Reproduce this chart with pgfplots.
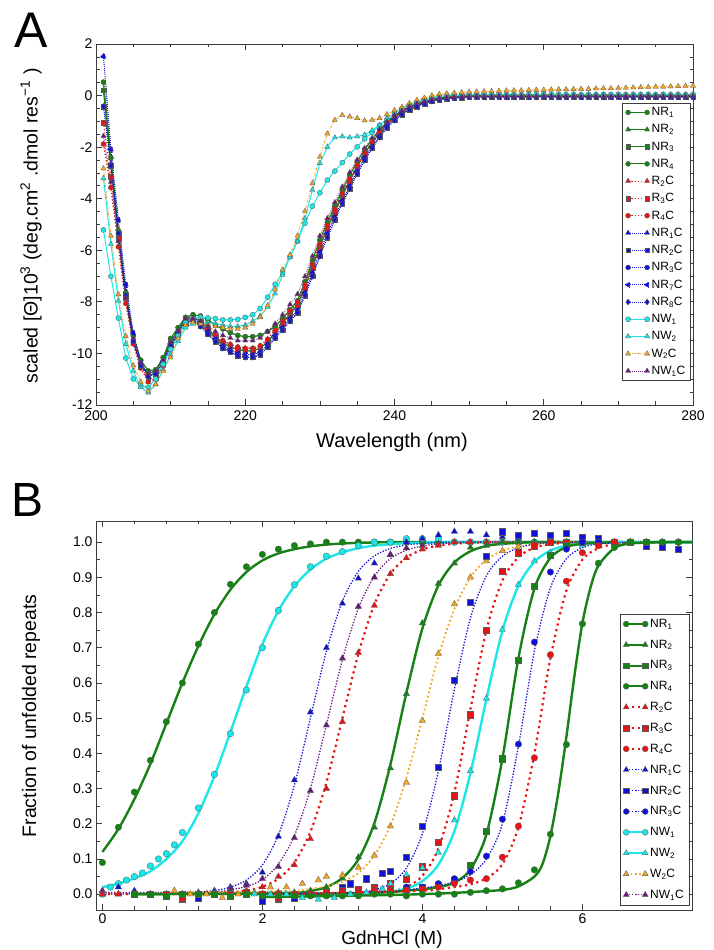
\documentclass[border=0pt]{standalone}
\usepackage{fontspec}
\setmainfont{Liberation Sans}
\usepackage{pgfplots}
\usepackage{pgfplotstable}
\pgfplotsset{compat=1.18}
\definecolor{cgreen}{RGB}{22,130,22}
\definecolor{cred}{RGB}{232,20,20}
\definecolor{cblue}{RGB}{15,15,215}
\definecolor{ccyan}{RGB}{30,230,230}
\definecolor{corange}{RGB}{245,165,35}
\definecolor{cpurple}{RGB}{105,25,125}
\definecolor{axgray}{RGB}{60,60,60}

\pgfplotstableread{
wl G1 G2 R1 R2 B1 B2 P C1 C2 O
201 0.52 0.21 -1.88 -1.05 1.52 -0.42 -1.57 -5.21 -3.21 -2.83
202 -2.41 -2.72 -3.56 -3.14 -2.09 -2.72 -3.35 -7.01 -5.76 -5.44
203 -5.24 -5.44 -5.86 -5.55 -4.82 -5.34 -5.65 -8.63 -7.96 -7.71
204 -7.64 -7.85 -8.06 -7.85 -7.33 -7.75 -7.85 -10.18 -9.63 -9.32
205 -9.32 -9.53 -9.63 -9.53 -9.21 -9.53 -9.42 -10.99 -10.68 -10.47
206 -10.26 -10.47 -10.57 -10.47 -10.37 -10.47 -10.37 -11.26 -11.31 -11.10
207 -10.68 -10.78 -11.10 -10.99 -10.84 -10.89 -10.78 -11.31 -11.52 -11.46
208 -10.63 -10.68 -10.99 -10.94 -10.78 -10.78 -10.68 -10.99 -11.20 -11.20
209 -10.16 -10.21 -10.47 -10.42 -10.31 -10.37 -10.26 -10.42 -10.63 -10.68
210 -9.42 -9.53 -9.74 -9.68 -9.63 -9.68 -9.58 -9.84 -10.05 -10.16
211 -9.00 -9.11 -9.21 -9.16 -9.21 -9.27 -9.11 -9.32 -9.53 -9.42
212 -8.6 -8.65 -8.7 -8.7 -8.75 -8.8 -8.65 -8.8 -9.0 -8.9
213 -8.5 -8.6 -8.65 -8.65 -8.7 -8.75 -8.65 -8.65 -8.85 -8.8
214 -8.55 -8.75 -8.8 -8.85 -8.85 -8.95 -8.75 -8.6 -8.8 -8.85
215 -8.7 -9.05 -9.05 -9.15 -9.15 -9.25 -8.95 -8.62 -8.8 -8.9
216 -8.9 -9.35 -9.3 -9.4 -9.45 -9.55 -9.15 -8.65 -8.85 -8.95
217 -9.05 -9.6 -9.5 -9.6 -9.7 -9.8 -9.3 -8.7 -8.9 -9.0
218 -9.2 -9.75 -9.65 -9.75 -9.85 -9.95 -9.4 -8.7 -8.95 -9.05
219 -9.3 -9.85 -9.75 -9.85 -10.0 -10.1 -9.5 -8.68 -8.95 -9.05
220 -9.35 -9.9 -9.8 -9.9 -10.05 -10.15 -9.5 -8.6 -8.9 -9.0
221 -9.35 -9.9 -9.8 -9.9 -10.05 -10.15 -9.5 -8.5 -8.75 -8.85
222 -9.3 -9.8 -9.7 -9.8 -9.95 -10.05 -9.4 -8.26 -8.55 -8.6
223 -9.15 -9.55 -9.45 -9.55 -9.65 -9.75 -9.15 -7.82 -8.2 -8.14
224 -8.95 -9.2 -9.1 -9.2 -9.3 -9.4 -8.85 -7.32 -7.68 -7.52
225 -8.65 -8.85 -8.75 -8.85 -9.0 -9.1 -8.5 -6.88 -6.96 -6.75
226 -8.3 -8.45 -8.35 -8.5 -8.65 -8.75 -8.1 -6.25 -6.25 -6.17
227 -7.96 -8.11 -8.01 -8.17 -8.32 -8.43 -7.70 -5.65 -5.65 -5.44
228 -7.22 -7.43 -7.33 -7.49 -7.64 -7.75 -7.01 -4.95 -4.76 -4.48
229 -6.39 -6.65 -6.54 -6.70 -6.86 -7.01 -6.23 -4.29 -3.66 -3.40
230 -5.60 -5.86 -5.76 -5.92 -6.07 -6.23 -5.44 -3.77 -2.62 -2.37
231 -4.92 -5.13 -5.03 -5.18 -5.34 -5.50 -4.76 -3.28 -1.99 -1.48
232 -4.29 -4.50 -4.40 -4.55 -4.71 -4.82 -4.14 -2.93 -1.63 -0.95
233 -3.66 -3.87 -3.79 -3.93 -4.08 -4.19 -3.54 -2.60 -1.59 -0.76
234 -3.09 -3.30 -3.22 -3.35 -3.51 -3.61 -2.98 -2.27 -1.63 -0.82
235 -2.57 -2.74 -2.70 -2.81 -2.93 -3.04 -2.49 -1.99 -1.59 -0.88
236 -2.09 -2.25 -2.22 -2.30 -2.41 -2.51 -2.04 -1.68 -1.52 -0.97
237 -1.70 -1.83 -1.80 -1.86 -1.97 -2.04 -1.65 -1.43 -1.35 -0.95
238 -1.34 -1.44 -1.42 -1.47 -1.57 -1.62 -1.31 -1.15 -1.15 -0.88
239 -1.03 -1.10 -1.09 -1.12 -1.17 -1.24 -1.01 -0.91 -0.91 -0.73
240 -0.79 -0.84 -0.84 -0.86 -0.92 -0.96 -0.76 -0.69 -0.69 -0.57
241 -0.59 -0.63 -0.63 -0.65 -0.69 -0.73 -0.58 -0.50 -0.50 -0.44
242 -0.43 -0.47 -0.46 -0.48 -0.53 -0.55 -0.42 -0.36 -0.37 -0.3
243 -0.32 -0.35 -0.34 -0.36 -0.4 -0.42 -0.31 -0.25 -0.26 -0.17
244 -0.23 -0.26 -0.25 -0.27 -0.3 -0.31 -0.23 -0.15 -0.16 -0.09
245 -0.15 -0.18 -0.17 -0.18 -0.21 -0.22 -0.15 -0.08 -0.1 0.0
246 -0.1 -0.12 -0.11 -0.12 -0.15 -0.16 -0.1 -0.03 -0.05 0.05
247 -0.06 -0.08 -0.07 -0.08 -0.11 -0.12 -0.07 0.0 0.0 0.08
248 -0.03 -0.06 -0.05 -0.05 -0.08 -0.09 -0.05 0.02 0.02 0.1
249 -0.02 -0.04 -0.03 -0.03 -0.06 -0.07 -0.04 0.03 0.03 0.12
250 -0.01 -0.03 -0.02 -0.03 -0.05 -0.05 -0.03 0.04 0.03 0.14
251 0.0 -0.02 -0.02 -0.02 -0.04 -0.05 -0.02 0.04 0.04 0.15
252 -0.01 -0.03 -0.01 -0.03 -0.05 -0.06 -0.03 0.05 0.03 0.16
253 -0.02 -0.03 -0.02 -0.02 -0.05 -0.05 -0.03 0.04 0.04 0.17
254 -0.01 -0.02 -0.02 -0.03 -0.04 -0.05 -0.02 0.05 0.04 0.18
255 0.0 -0.03 -0.01 -0.02 -0.05 -0.06 -0.03 0.04 0.03 0.19
256 -0.01 -0.02 -0.02 -0.03 -0.05 -0.05 -0.03 0.05 0.04 0.2
257 -0.02 -0.03 -0.02 -0.02 -0.04 -0.05 -0.02 0.04 0.04 0.2
258 -0.01 -0.02 -0.01 -0.03 -0.05 -0.06 -0.03 0.05 0.03 0.21
259 0.0 -0.03 -0.02 -0.02 -0.05 -0.05 -0.03 0.04 0.04 0.22
260 -0.01 -0.02 -0.02 -0.03 -0.04 -0.05 -0.02 0.05 0.04 0.22
261 0.0 -0.02 -0.02 -0.02 -0.04 -0.05 -0.02 0.04 0.04 0.23
262 -0.01 -0.03 -0.01 -0.03 -0.05 -0.06 -0.03 0.05 0.03 0.24
263 -0.02 -0.03 -0.02 -0.02 -0.05 -0.05 -0.03 0.04 0.04 0.24
264 -0.01 -0.02 -0.02 -0.03 -0.04 -0.05 -0.02 0.05 0.04 0.25
265 0.0 -0.03 -0.01 -0.02 -0.05 -0.06 -0.03 0.04 0.03 0.26
266 -0.01 -0.02 -0.02 -0.03 -0.05 -0.05 -0.03 0.05 0.04 0.26
267 -0.02 -0.03 -0.02 -0.02 -0.04 -0.05 -0.02 0.04 0.04 0.27
268 -0.01 -0.02 -0.01 -0.03 -0.05 -0.06 -0.03 0.05 0.03 0.28
269 0.0 -0.03 -0.02 -0.02 -0.05 -0.05 -0.03 0.04 0.04 0.28
270 -0.01 -0.02 -0.02 -0.03 -0.04 -0.05 -0.02 0.05 0.04 0.29
271 0.0 -0.02 -0.02 -0.02 -0.04 -0.05 -0.02 0.04 0.04 0.3
272 -0.01 -0.03 -0.01 -0.03 -0.05 -0.06 -0.03 0.05 0.03 0.31
273 -0.02 -0.03 -0.02 -0.02 -0.05 -0.05 -0.03 0.04 0.04 0.32
274 -0.01 -0.02 -0.02 -0.03 -0.04 -0.05 -0.02 0.05 0.04 0.33
275 0.0 -0.03 -0.01 -0.02 -0.05 -0.06 -0.03 0.04 0.03 0.34
276 -0.01 -0.02 -0.02 -0.03 -0.05 -0.05 -0.03 0.05 0.04 0.34
277 -0.02 -0.03 -0.02 -0.02 -0.04 -0.05 -0.02 0.04 0.04 0.35
278 -0.01 -0.02 -0.01 -0.03 -0.05 -0.06 -0.03 0.05 0.03 0.36
279 0.0 -0.03 -0.02 -0.02 -0.05 -0.05 -0.03 0.04 0.04 0.37
280 -0.01 -0.02 -0.02 -0.03 -0.04 -0.05 -0.02 0.05 0.04 0.38
}\cdA

\pgfplotsset{
 myaxis/.style={
  scale only axis,
  axis line style={axgray, line width=0.8pt},
  tick align=inside, xtick pos=both, ytick pos=both,
  xticklabel pos=left, yticklabel pos=left,
  major tick length=6pt, minor tick length=3.5pt,
  every tick/.style={axgray, line width=0.7pt},
  tick label style={font=\fontsize{14}{16}\selectfont, text=black},
  /pgf/number format/assume math mode=true,
  legend cell align=left,
  legend image code/.code={\draw[mark repeat=2,mark phase=1,##1] plot coordinates {(0pt,0pt) (9.5pt,0pt) (19pt,0pt)};},
 },
 mk/.style={mark options={solid, fill=#1, draw=black!65, line width=0.3pt}},
 grA/.style={cgreen, line width=0.9pt, solid, mark size=2.5pt, mk=cgreen},
 rdA/.style={cred, line width=1.1pt, dash pattern=on 1.1pt off 2.2pt, mark size=2.5pt, mk=cred},
 blA/.style={cblue, line width=0.8pt, dash pattern=on 0.8pt off 1.2pt, mark size=2.5pt, mk=cblue},
 cyA/.style={ccyan, line width=1pt, solid, mark size=2.6pt, mk=ccyan},
 orA/.style={corange, line width=1pt, dash pattern=on 2pt off 1.5pt on 0.6pt off 1.5pt, mark size=2.6pt, mk=corange},
 puA/.style={cpurple, line width=0.8pt, dash pattern=on 0.8pt off 1.2pt, mark size=2.5pt, mk=cpurple},
 grB/.style={cgreen, line width=2.4pt, solid},
 cyB/.style={ccyan, line width=2.4pt, solid},
 rdB/.style={cred, line width=2.2pt, dash pattern=on 2.2pt off 3.6pt},
 blB/.style={cblue, line width=1.3pt, dash pattern=on 1.3pt off 1.6pt},
 puB/.style={cpurple, line width=1.3pt, dash pattern=on 1.3pt off 1.6pt},
 orB/.style={corange, line width=1.8pt, dash pattern=on 1.8pt off 2.6pt},
 mB/.style={only marks, forget plot, mark size=3.3pt, mk=#1},
}

\begin{document}
\begin{tikzpicture}
\path[use as bounding box] (0pt,0pt) rectangle (714pt,950pt);

% ---------------- Panel A ----------------
\begin{axis}[myaxis, width=597pt, height=361pt, at={(96pt,545pt)}, anchor=south west,
  xmin=200, xmax=280, ymin=-12, ymax=2,
  xtick={200,220,240,260,280}, ytick={-12,-10,-8,-6,-4,-2,0,2},
  minor x tick num=3, minor y tick num=3,
  xticklabel style={yshift=-2.5pt},
  legend style={at={(0.995,0.837)}, anchor=north east, draw=axgray,
    font=\fontsize{12}{13}\selectfont, row sep=3.4pt, inner sep=2.5pt},
]
\addplot[grA, mark=*] table[x=wl,y=G1]{\cdA}; \addlegendentry{NR\textsubscript{1}}
\addplot[grA, mark=triangle*, mark size=3pt] table[x=wl,y=G2]{\cdA}; \addlegendentry{NR\textsubscript{2}}
\addplot[grA, mark=square*, mark size=2.3pt] table[x=wl,y=G2]{\cdA}; \addlegendentry{NR\textsubscript{3}}
\addplot[grA, mark=*] table[x=wl,y=G1]{\cdA}; \addlegendentry{NR\textsubscript{4}}
\addplot[rdA, mark=triangle*, mark size=3pt] table[x=wl,y=R1]{\cdA}; \addlegendentry{R\textsubscript{2}C}
\addplot[rdA, mark=square*, mark size=2.3pt] table[x=wl,y=R2]{\cdA}; \addlegendentry{R\textsubscript{3}C}
\addplot[rdA, mark=*] table[x=wl,y=R1]{\cdA}; \addlegendentry{R\textsubscript{4}C}
\addplot[blA, mark=triangle*, mark size=3pt] table[x=wl,y=B1]{\cdA}; \addlegendentry{NR\textsubscript{1}C}
\addplot[blA, mark=square*, mark size=2.3pt] table[x=wl,y=B2]{\cdA}; \addlegendentry{NR\textsubscript{2}C}
\addplot[blA, mark=*] table[x=wl,y=B2]{\cdA}; \addlegendentry{NR\textsubscript{3}C}
\addplot[blA, mark=triangle*, mark size=3pt, mark options={rotate=90}] table[x=wl,y=B1]{\cdA}; \addlegendentry{NR\textsubscript{7}C}
\addplot[blA, mark=diamond*, mark size=3pt] table[x=wl,y=B2]{\cdA}; \addlegendentry{NR\textsubscript{8}C}
\addplot[cyA, mark=*] table[x=wl,y=C1]{\cdA}; \addlegendentry{NW\textsubscript{1}}
\addplot[cyA, mark=triangle*, mark size=3pt] table[x=wl,y=C2]{\cdA}; \addlegendentry{NW\textsubscript{2}}
\addplot[orA, mark=triangle*, mark size=3pt] table[x=wl,y=O]{\cdA}; \addlegendentry{W\textsubscript{2}C}
\addplot[puA, mark=triangle*, mark size=3pt] table[x=wl,y=P]{\cdA}; \addlegendentry{NW\textsubscript{1}C}
\end{axis}

% ---------------- Panel B ----------------
\begin{axis}[myaxis, width=596pt, height=389pt, at={(96pt,40pt)}, anchor=south west,
  xmin=-0.08, xmax=7.37, ymin=-0.045, ymax=1.06,
  xtick={0,2,4,6}, minor x tick num=4,
  ytick={0,0.1,0.2,0.3,0.4,0.5,0.6,0.7,0.8,0.9,1.0}, minor y tick num=1,
  yticklabel style={/pgf/number format/.cd, fixed, fixed zerofill, precision=1},
  legend style={at={(0.995,0.013)}, anchor=south east, draw=axgray,
    font=\fontsize{12}{13}\selectfont, row sep=7pt, inner sep=3pt},
]
% fitted curves
\addplot[grB, smooth, forget plot] coordinates {(0,0.12) (0.2,0.185) (0.4,0.27) (0.6,0.37) (0.8,0.485) (1.0,0.6) (1.2,0.705) (1.4,0.795) (1.6,0.865) (1.8,0.915) (2.0,0.948) (2.2,0.968) (2.4,0.98) (2.6,0.988) (2.8,0.993) (3.0,0.996) (3.2,0.998) (3.4,0.999) (3.6,1.0) (4.0,1.0) (5.0,1.0) (6.0,1.0) (7.37,1.0)};
\addplot[cyB, smooth, forget plot] coordinates {(0,0.02) (0.2,0.03) (0.4,0.045) (0.6,0.065) (0.8,0.1) (1.0,0.15) (1.2,0.23) (1.4,0.335) (1.6,0.46) (1.8,0.59) (2.0,0.71) (2.2,0.805) (2.4,0.875) (2.6,0.922) (2.8,0.953) (3.0,0.971) (3.2,0.983) (3.4,0.99) (3.6,0.994) (3.8,0.997) (4.0,0.998) (4.4,1.0) (7.37,1.0)};
\addplot[blB, smooth, forget plot] coordinates {(0,0.0) (0.5,0.001) (1.0,0.003) (1.2,0.006) (1.4,0.01) (1.6,0.02) (1.8,0.04) (2.0,0.083) (2.2,0.168) (2.4,0.31) (2.6,0.5) (2.8,0.69) (3.0,0.832) (3.2,0.917) (3.4,0.961) (3.6,0.982) (3.8,0.992) (4.0,0.996) (4.4,1.0) (6.0,1.0)};
\addplot[puB, smooth, forget plot] coordinates {(0,0.005) (1.0,0.005) (1.4,0.006) (1.6,0.012) (1.8,0.022) (2.0,0.041) (2.2,0.085) (2.4,0.166) (2.6,0.3) (2.8,0.481) (3.0,0.666) (3.2,0.812) (3.4,0.903) (3.6,0.953) (3.8,0.977) (4.0,0.989) (4.2,0.995) (4.6,1.0) (5.6,1.0)};
\addplot[rdB, smooth, forget plot] coordinates {(0,0.0) (1.0,0.002) (1.6,0.005) (1.8,0.01) (2.0,0.021) (2.2,0.044) (2.4,0.09) (2.6,0.177) (2.8,0.317) (3.0,0.5) (3.2,0.683) (3.4,0.823) (3.6,0.91) (3.8,0.956) (4.0,0.979) (4.2,0.99) (4.4,0.995) (4.8,1.0) (6.0,1.0)};
\addplot[grB, smooth, forget plot] coordinates {(0.4,0.0) (1.4,0.001) (2.4,0.004) (2.6,0.009) (2.8,0.02) (3.0,0.046) (3.2,0.099) (3.4,0.202) (3.6,0.368) (3.8,0.572) (4.0,0.755) (4.2,0.877) (4.4,0.942) (4.6,0.974) (4.8,0.989) (5.0,0.995) (5.4,1.0) (6.0,1.0)};
\addplot[orB, smooth, forget plot] coordinates {(0.9,0.005) (1.8,0.007) (2.4,0.01) (2.6,0.015) (2.8,0.022) (3.0,0.035) (3.2,0.06) (3.4,0.11) (3.6,0.195) (3.8,0.33) (4.0,0.5) (4.2,0.675) (4.4,0.81) (4.6,0.9) (4.8,0.95) (5.0,0.975) (5.2,0.988) (5.4,0.994) (5.8,1.0) (6.6,1.0)};
\addplot[blB, smooth, forget plot] coordinates {(0.8,0.0) (2.0,0.001) (3.0,0.003) (3.2,0.005) (3.4,0.012) (3.6,0.03) (3.8,0.074) (4.0,0.172) (4.2,0.35) (4.4,0.582) (4.6,0.784) (4.8,0.904) (5.0,0.96) (5.2,0.984) (5.4,0.994) (5.6,0.998) (6.0,1.0) (7.37,1.0)};
\addplot[rdB, smooth, forget plot] coordinates {(0.8,0.0) (2.0,0.001) (3.2,0.002) (3.4,0.003) (3.6,0.007) (3.8,0.02) (4.0,0.052) (4.2,0.13) (4.4,0.289) (4.6,0.525) (4.8,0.75) (5.0,0.891) (5.2,0.957) (5.4,0.984) (5.6,0.994) (5.8,0.998) (6.2,1.0) (6.8,1.0)};
\addplot[cyB, smooth, forget plot] coordinates {(1.9,0.0) (2.6,0.0) (3.0,0.001) (3.4,0.003) (3.6,0.007) (3.8,0.016) (4.0,0.037) (4.2,0.084) (4.4,0.179) (4.6,0.343) (4.8,0.554) (5.0,0.748) (5.2,0.876) (5.4,0.944) (5.6,0.976) (5.8,0.99) (6.0,0.996) (6.4,1.0) (7.37,1.0)};
\addplot[grB, smooth, forget plot] coordinates {(0.4,0.0) (1.6,0.001) (3.0,0.002) (3.6,0.006) (3.8,0.01) (4.0,0.014) (4.2,0.02) (4.4,0.033) (4.6,0.07) (4.8,0.17) (5.0,0.385) (5.2,0.67) (5.4,0.868) (5.6,0.955) (5.8,0.986) (6.0,0.995) (6.4,1.0)};
\addplot[blB, smooth, forget plot] coordinates {(2.0,0.0) (3.0,0.004) (3.6,0.008) (3.8,0.012) (4.0,0.017) (4.2,0.024) (4.4,0.035) (4.6,0.055) (4.8,0.1) (5.0,0.2) (5.2,0.42) (5.4,0.69) (5.6,0.87) (5.8,0.953) (6.0,0.984) (6.2,0.995) (6.6,1.0)};
\addplot[rdB, smooth, forget plot] coordinates {(2.0,0.0) (3.0,0.004) (4.0,0.01) (4.2,0.014) (4.4,0.02) (4.6,0.028) (4.8,0.045) (5.0,0.085) (5.2,0.19) (5.4,0.4) (5.6,0.67) (5.8,0.862) (6.0,0.95) (6.2,0.983) (6.4,0.994) (6.6,0.998) (7.0,1.0) (7.37,1.0)};
\addplot[grB, smooth, forget plot] coordinates {(2.0,-0.008) (3.0,-0.005) (4.0,0.0) (4.6,0.006) (5.0,0.012) (5.2,0.022) (5.4,0.05) (5.5,0.085) (5.6,0.165) (5.7,0.29) (5.8,0.447) (5.9,0.62) (6.0,0.77) (6.1,0.87) (6.2,0.933) (6.4,0.983) (6.6,0.996) (7.0,1.0) (7.37,1.0)};
% data points
\addplot[mB=cgreen, mark=*] coordinates {(0,0.09) (0.2,0.19) (0.4,0.29) (0.6,0.38) (0.8,0.49) (1.0,0.6) (1.2,0.71) (1.4,0.8) (1.6,0.88) (1.8,0.93) (2.0,0.965) (2.2,0.98) (2.4,0.99) (2.6,0.995) (2.8,1.0) (3.0,1.0) (3.2,1.0) (3.4,1.0) (3.6,1.0) (3.8,1.0) (4.0,1.0) (4.2,1.0) (4.4,1.0) (4.6,1.0) (4.8,1.0) (5.0,1.0) (5.2,1.0) (5.4,1.0) (5.6,1.0) (5.8,1.0) (6.0,1.0) (6.2,1.0) (6.4,1.0) (6.6,1.0) (6.8,1.0) (7.0,1.0) (7.2,1.0)};
\addplot[mB=ccyan, mark=*] coordinates {(0,0.0) (0.1,0.02) (0.2,0.03) (0.3,0.04) (0.4,0.05) (0.5,0.06) (0.6,0.08) (0.7,0.1) (0.8,0.115) (0.9,0.14) (1.0,0.175) (1.2,0.245) (1.4,0.34) (1.6,0.456) (1.8,0.58) (2.0,0.7) (2.2,0.806) (2.4,0.879) (2.6,0.93) (2.8,0.96) (3.0,0.973) (3.2,0.99) (3.4,1.0) (3.6,1.0) (3.8,1.01) (4.0,1.01) (4.2,1.01) (4.4,1.0) (4.6,1.0) (4.8,1.0) (5.0,1.0) (5.2,1.0) (5.4,1.0) (5.6,1.0) (5.8,1.0) (6.0,1.0) (6.2,1.0) (6.4,1.0) (6.6,1.0) (6.8,1.0) (7.0,1.0) (7.2,1.0)};
\addplot[mB=cblue, mark=triangle*, mark size=3.7pt] coordinates {(0,0.0) (0.2,0.02) (0.4,0.01) (0.6,0.0) (0.8,0.0) (1.0,0.0) (1.2,0.005) (1.4,0.01) (1.6,0.02) (1.8,0.03) (2.0,0.062) (2.2,0.164) (2.4,0.324) (2.6,0.517) (2.8,0.7) (3.0,0.826) (3.2,0.897) (3.4,0.94) (3.6,0.965) (3.8,1.0) (4.0,1.01) (4.2,1.02) (4.4,1.03) (4.6,1.03) (4.8,1.02) (5.0,1.015) (5.2,1.01) (5.4,1.0) (5.6,1.0) (5.8,1.0) (6.0,1.0)};
\addplot[mB=cpurple, mark=triangle*, mark size=3.7pt] coordinates {(0,0.01) (0.2,0.0) (0.4,0.0) (0.6,0.0) (0.8,-0.005) (1.0,0.0) (1.2,0.0) (1.4,0.005) (1.6,0.015) (1.8,0.025) (2.0,0.044) (2.2,0.078) (2.4,0.16) (2.6,0.294) (2.8,0.48) (3.0,0.67) (3.2,0.817) (3.4,0.9) (3.6,0.964) (3.8,0.983) (4.0,0.99) (4.2,0.995) (4.4,1.0) (4.6,1.0) (4.8,1.0) (5.0,1.0) (5.2,1.0) (5.4,1.0) (5.6,1.0)};
\addplot[mB=cred, mark=triangle*, mark size=3.7pt] coordinates {(0,0.0) (0.2,0.0) (0.4,0.0) (0.6,0.0) (0.8,0.0) (1.0,0.0) (1.2,-0.005) (1.4,0.0) (1.6,0.005) (1.8,0.01) (2.0,0.02) (2.2,0.05) (2.4,0.083) (2.6,0.157) (2.8,0.3) (3.0,0.49) (3.2,0.686) (3.4,0.82) (3.6,0.91) (3.8,0.955) (4.0,0.98) (4.2,0.99) (4.4,1.0) (4.6,1.0) (4.8,1.0) (5.0,1.0) (5.2,1.0) (5.4,1.0) (5.6,1.0) (5.8,1.0) (6.0,1.0)};
\addplot[mB=cgreen, mark=triangle*, mark size=3.7pt] coordinates {(0.4,0.0) (0.6,-0.003) (0.8,0.0) (1.0,0.0) (1.2,0.0) (1.4,-0.005) (1.6,0.0) (1.8,0.0) (2.0,0.0) (2.2,0.005) (2.4,0.005) (2.6,0.01) (2.8,0.02) (3.0,0.045) (3.2,0.105) (3.4,0.19) (3.6,0.358) (3.8,0.569) (4.0,0.77) (4.2,0.882) (4.4,0.94) (4.6,0.985) (4.8,0.99) (5.0,1.0) (5.2,1.0) (5.4,1.0) (5.6,1.0) (5.8,1.0) (6.0,1.0)};
\addplot[mB=corange, mark=triangle*, mark size=3.7pt] coordinates {(0.9,0.01) (1.1,0.0) (1.3,0.0) (1.5,-0.01) (1.7,0.0) (1.9,0.005) (2.1,0.02) (2.3,0.02) (2.5,0.03) (2.7,0.04) (2.8,0.05) (3.0,0.054) (3.2,0.076) (3.4,0.11) (3.6,0.193) (3.8,0.317) (4.0,0.493) (4.2,0.683) (4.4,0.824) (4.6,0.9) (4.8,0.946) (5.0,0.975) (5.2,0.987) (5.4,0.99) (5.6,0.995) (5.8,1.0) (6.0,1.0) (6.2,1.0) (6.4,1.0) (6.6,1.0)};
\addplot[mB=cblue, mark=square*, mark size=3.1pt] coordinates {(0.8,0.0) (1.0,-0.015) (1.2,-0.01) (1.4,0.0) (1.6,0.0) (1.8,0.0) (2.0,-0.02) (2.2,-0.015) (2.4,-0.01) (2.6,0.0) (2.8,0.005) (3.0,0.02) (3.1,0.03) (3.3,0.044) (3.5,0.06) (3.6,0.065) (3.8,0.105) (4.0,0.193) (4.2,0.36) (4.4,0.608) (4.6,0.83) (4.8,0.96) (5.0,1.03) (5.2,1.02) (5.4,1.025) (5.6,1.02) (5.8,1.025) (6.0,1.015) (6.2,1.01) (6.4,1.0) (6.6,1.0) (6.8,0.99) (7.0,0.985) (7.2,0.98)};
\addplot[mB=cred, mark=square*, mark size=3.1pt] coordinates {(0.8,0.0) (1.0,-0.01) (1.2,0.0) (1.4,0.0) (1.6,0.0) (1.8,0.005) (2.0,0.0) (2.2,-0.01) (2.4,0.0) (2.6,0.0) (2.8,0.005) (3.0,0.01) (3.2,0.015) (3.4,0.02) (3.6,0.03) (3.8,0.044) (4.0,0.078) (4.2,0.147) (4.4,0.28) (4.6,0.51) (4.8,0.75) (5.0,0.917) (5.2,0.97) (5.4,0.99) (5.6,1.0) (5.8,1.0) (6.0,1.0) (6.2,1.0) (6.4,1.0) (6.6,1.0) (6.8,1.0)};
\addplot[mB=ccyan, mark=triangle*, mark size=3.7pt] coordinates {(1.9,0.0) (2.1,0.0) (2.3,0.0) (2.5,-0.01) (2.7,-0.015) (2.9,-0.01) (3.1,0.0) (3.3,0.005) (3.5,0.015) (3.6,0.03) (3.8,0.055) (4.0,0.075) (4.2,0.118) (4.4,0.21) (4.6,0.35) (4.8,0.556) (5.0,0.752) (5.2,0.879) (5.4,0.946) (5.6,0.97) (5.8,0.985) (6.0,0.99) (6.2,1.0) (6.4,1.0) (6.6,1.0) (6.8,1.0) (7.0,1.0) (7.2,1.0)};
\addplot[mB=cgreen, mark=square*, mark size=3.1pt] coordinates {(0.4,0.0) (0.6,0.0) (0.8,-0.005) (1.0,0.0) (1.2,0.0) (1.4,0.0) (1.6,-0.005) (1.8,0.0) (2.0,0.0) (2.2,0.0) (2.4,0.0) (2.6,0.0) (2.8,0.0) (3.0,0.005) (3.2,0.005) (3.4,0.01) (3.6,0.01) (3.8,0.015) (4.0,0.02) (4.2,0.025) (4.4,0.04) (4.6,0.083) (4.8,0.18) (5.0,0.385) (5.2,0.664) (5.4,0.875) (5.6,0.964) (5.8,0.99) (6.0,1.0) (6.2,1.0) (6.4,1.0)};
\addplot[mB=cblue, mark=*] coordinates {(2.0,0.0) (2.2,0.0) (2.4,0.0) (2.6,0.0) (2.8,0.0) (3.0,0.005) (3.2,0.005) (3.4,0.01) (3.6,0.01) (3.8,0.02) (4.0,0.02) (4.2,0.03) (4.4,0.044) (4.6,0.064) (4.8,0.108) (5.0,0.213) (5.2,0.426) (5.4,0.716) (5.6,0.915) (5.8,0.98) (6.0,1.0) (6.2,1.0) (6.4,1.0) (6.6,1.0)};
\addplot[mB=cred, mark=*] coordinates {(2.0,0.0) (2.2,0.0) (2.4,0.0) (2.6,0.0) (2.8,0.005) (3.0,0.005) (3.2,0.005) (3.4,0.01) (3.6,0.01) (3.8,0.012) (4.0,0.015) (4.2,0.02) (4.4,0.03) (4.6,0.04) (4.8,0.044) (5.0,0.105) (5.2,0.193) (5.4,0.387) (5.6,0.68) (5.8,0.889) (6.0,0.97) (6.2,0.99) (6.4,1.0) (6.6,1.0) (6.8,1.0) (7.0,1.0) (7.2,1.0)};
\addplot[mB=cgreen, mark=*] coordinates {(2.0,-0.005) (2.2,-0.005) (2.4,-0.005) (2.6,-0.005) (2.8,-0.005) (3.0,-0.005) (3.2,-0.005) (3.4,0.0) (3.6,0.0) (3.8,-0.005) (4.0,0.0) (4.2,0.0) (4.4,0.0) (4.6,0.005) (4.8,0.01) (5.0,0.015) (5.2,0.032) (5.4,0.069) (5.6,0.17) (5.8,0.425) (6.0,0.768) (6.2,0.94) (6.4,0.985) (6.6,1.0) (6.8,1.0) (7.0,1.0) (7.2,1.0)};
% legend
\addlegendimage{grB, line width=2pt, mark=*, mark size=3pt, mk=cgreen} \addlegendentry{NR\textsubscript{1}}
\addlegendimage{grB, line width=2pt, mark=triangle*, mark size=3.4pt, mk=cgreen} \addlegendentry{NR\textsubscript{2}}
\addlegendimage{grB, line width=2pt, mark=square*, mark size=2.8pt, mk=cgreen} \addlegendentry{NR\textsubscript{3}}
\addlegendimage{grB, line width=2pt, mark=*, mark size=3pt, mk=cgreen} \addlegendentry{NR\textsubscript{4}}
\addlegendimage{rdB, line width=1.8pt, mark=triangle*, mark size=3.4pt, mk=cred} \addlegendentry{R\textsubscript{2}C}
\addlegendimage{rdB, line width=1.8pt, mark=square*, mark size=2.8pt, mk=cred} \addlegendentry{R\textsubscript{3}C}
\addlegendimage{rdB, line width=1.8pt, mark=*, mark size=3pt, mk=cred} \addlegendentry{R\textsubscript{4}C}
\addlegendimage{blB, mark=triangle*, mark size=3.4pt, mk=cblue} \addlegendentry{NR\textsubscript{1}C}
\addlegendimage{blB, mark=square*, mark size=2.8pt, mk=cblue} \addlegendentry{NR\textsubscript{2}C}
\addlegendimage{blB, mark=*, mark size=3pt, mk=cblue} \addlegendentry{NR\textsubscript{3}C}
\addlegendimage{cyB, line width=2pt, mark=*, mark size=3pt, mk=ccyan} \addlegendentry{NW\textsubscript{1}}
\addlegendimage{cyB, line width=2pt, mark=triangle*, mark size=3.4pt, mk=ccyan} \addlegendentry{NW\textsubscript{2}}
\addlegendimage{orB, mark=triangle*, mark size=3.4pt, mk=corange} \addlegendentry{W\textsubscript{2}C}
\addlegendimage{puB, mark=triangle*, mark size=3.4pt, mk=cpurple} \addlegendentry{NW\textsubscript{1}C}
\end{axis}

% ---------------- Labels ----------------
\node[font=\fontsize{50}{51}\selectfont] at (31pt,920pt) {A};
\node[font=\fontsize{48}{49}\selectfont] at (28pt,450pt) {B};
\node[rotate=90, font=\fontsize{19.5}{21}\selectfont] at (31pt,724pt) {scaled [Θ]10\textsuperscript{3} (deg.cm\textsuperscript{2} .dmol res\textsuperscript{−1} )};
\node[font=\fontsize{20}{22}\selectfont] at (392pt,508pt) {Wavelength (nm)};
\node[rotate=90, font=\fontsize{19.5}{21}\selectfont] at (31pt,234pt) {Fraction of unfolded repeats};
\node[font=\fontsize{19}{21}\selectfont] at (392pt,10pt) {GdnHCl (M)};
\end{tikzpicture}
\end{document}
